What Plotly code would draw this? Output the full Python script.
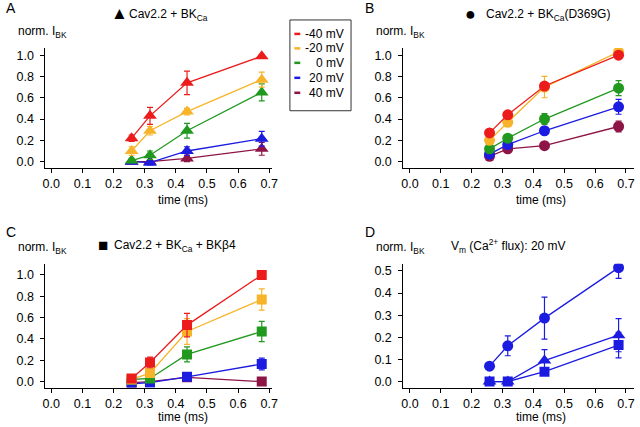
import plotly.graph_objects as go

# ---------------- data ----------------
time_ms = [0.258, 0.317, 0.436, 0.676]
voltages = ["-40 mV", "-20 mV", "0 mV", "20 mV", "40 mV"]
colors = ["#ec1c1c", "#f7b42a", "#21991f", "#1c1ce0", "#8e1446"]

# Panel A: Cav2.2 + BKCa (triangles), rows follow voltages
A_mean = [[0.22, 0.43, 0.74, 0.99],
          [0.10, 0.29, 0.47, 0.77],
          [0.01, 0.06, 0.29, 0.65],
          [0.00, -0.01, 0.10, 0.215],
          [0.00, 0.00, 0.03, 0.12]]
A_err = [[0.03, 0.08, 0.11, 0.01],
         [0.04, 0.04, 0.03, 0.07],
         [0.02, 0.04, 0.07, 0.08],
         [0.01, 0.02, 0.04, 0.07],
         [0.01, 0.01, 0.03, 0.06]]

# Panel B: Cav2.2 + BKCa(D369G) (circles)
B_mean = [[0.27, 0.44, 0.71, 1.00],
          [0.20, 0.37, 0.70, 1.03],
          [0.12, 0.22, 0.40, 0.69],
          [0.07, 0.16, 0.29, 0.515],
          [0.05, 0.12, 0.15, 0.33]]
B_err = [[0.02, 0.02, 0.03, 0.01],
         [0.02, 0.03, 0.10, 0.04],
         [0.02, 0.02, 0.05, 0.07],
         [0.01, 0.02, 0.03, 0.07],
         [0.01, 0.02, 0.02, 0.05]]

# Panel C: Cav2.2 + BKCa + BKb4 (squares)
C_mean = [[0.03, 0.18, 0.53, 1.00],
          [0.02, 0.08, 0.47, 0.77],
          [0.02, 0.03, 0.255, 0.47],
          [-0.02, -0.01, 0.045, 0.165],
          [-0.01, 0.00, 0.04, 0.00]]
C_err = [[0.01, 0.05, 0.11, 0.01],
         [0.01, 0.03, 0.12, 0.10],
         [0.01, 0.02, 0.07, 0.095],
         [0.01, 0.01, 0.015, 0.055],
         [0.01, 0.01, 0.01, 0.01]]

# Panel D: Vm 20 mV, the three constructs
D_names = ["BKCa(D369G)", "BKCa", "BKCa + BKb4"]
D_symbols = ["circle", "triangle-up", "square"]
D_mean = [[0.07, 0.162, 0.287, 0.515],
          [0.00, 0.00, 0.095, 0.21],
          [0.00, 0.00, 0.045, 0.165]]
D_err = [[0.005, 0.045, 0.095, 0.048],
         [0.00, 0.00, 0.05, 0.075],
         [0.00, 0.00, 0.015, 0.058]]

y_ticks_main = [0.0, 0.2, 0.4, 0.6, 0.8, 1.0]
y_ticks_D = [0.0, 0.1, 0.2, 0.3, 0.4, 0.5]
x_ticks = [0.0, 0.1, 0.2, 0.3, 0.4, 0.5, 0.6, 0.7]

# ---------------- figure ----------------
W, H = 640, 427
FONT = "Liberation Sans, Arial, Helvetica, sans-serif"
SYM_SIZE = {"triangle-up": 12, "circle": 11, "square": 10}

def px(x):
    return x / W

def py(y):
    return 1 - y / H

fig = go.Figure()

def add_series(xa, ya, mean, err, color, symbol, name):
    fig.add_trace(go.Scatter(
        x=time_ms, y=mean, mode="lines+markers", name=name,
        xaxis=xa, yaxis=ya, showlegend=False,
        line=dict(color=color, width=1.3),
        marker=dict(symbol=symbol, size=SYM_SIZE[symbol], color=color, line=dict(width=0)),
        error_y=dict(type="data", array=err, color=color, thickness=1.2, width=3),
    ))

# draw from 40 mV up to -40 mV so red is on top
for i in reversed(range(len(voltages))):
    add_series("x", "y", A_mean[i], A_err[i], colors[i], "triangle-up", voltages[i])
    add_series("x2", "y2", B_mean[i], B_err[i], colors[i], "circle", voltages[i])
    add_series("x3", "y3", C_mean[i], C_err[i], colors[i], "square", voltages[i])

blue = colors[3]
for i in range(3):
    add_series("x4", "y4", D_mean[i], D_err[i], blue, D_symbols[i], D_names[i])

axis_common = dict(
    showline=True, linecolor="black", linewidth=1, mirror=False,
    ticks="outside", ticklen=4, tickwidth=1, tickcolor="black",
    showgrid=False, zeroline=False, tickformat=".1f",
    tickfont=dict(family=FONT, size=12.5, color="black"),
)

left_dom = [px(43), px(273)]
right_dom = [px(406), 1.0]
top_dom = [py(168), py(48)]
bot_dom = [py(388.5), py(264.3)]
left_range = [-0.019, 0.7095]
right_range = [-0.0214, 0.726]

fig.update_layout(
    width=W, height=H,
    margin=dict(l=0, r=0, t=0, b=0),
    paper_bgcolor="white", plot_bgcolor="white",
    font=dict(family=FONT, size=12, color="black"),
    xaxis=dict(axis_common, domain=left_dom, range=left_range, tickvals=x_ticks, anchor="y"),
    yaxis=dict(axis_common, domain=top_dom, range=[-0.056, 1.068], tickvals=y_ticks_main, anchor="x", ticklabelstandoff=4),
    xaxis2=dict(axis_common, domain=right_dom, range=right_range, tickvals=x_ticks, anchor="y2"),
    yaxis2=dict(axis_common, domain=top_dom, range=[-0.056, 1.068], tickvals=y_ticks_main, anchor="x2", ticklabelstandoff=4),
    xaxis3=dict(axis_common, domain=left_dom, range=left_range, tickvals=x_ticks, anchor="y3"),
    yaxis3=dict(axis_common, domain=bot_dom, range=[-0.056, 1.106], tickvals=y_ticks_main, anchor="x3", ticklabelstandoff=4),
    xaxis4=dict(axis_common, domain=right_dom, range=right_range, tickvals=x_ticks, anchor="y4"),
    yaxis4=dict(axis_common, domain=bot_dom, range=[-0.027, 0.533], tickvals=y_ticks_D, anchor="x4", ticklabelstandoff=4),
)

annotations = []

def ann(x, y, text, size=12, xanchor="left", yanchor="middle"):
    annotations.append(dict(x=px(x), y=py(y), xref="paper", yref="paper", text=text,
                            showarrow=False, xanchor=xanchor, yanchor=yanchor,
                            font=dict(family=FONT, size=size, color="black")))

# panel letters
ann(1, 8, "A", 14)
ann(365, 8, "B", 14)
ann(1, 233, "C", 14)
ann(365, 233, "D", 14)

# y-axis labels
for (x, y) in [(13, 32), (376, 32), (13, 249), (376, 249)]:
    ann(x, y, "norm. I<sub>BK</sub>", 12)

# x-axis titles
for (x, y) in [(183, 200), (546, 200), (183, 418), (546, 418)]:
    ann(x, y, "time (ms)", 12, xanchor="center")

# panel titles
ann(108, 14, "▲", 17)
ann(126, 15, "Cav2.2 + BK<sub>Ca</sub>", 12)
ann(467, 14, "●", 18)
ann(488, 15, "Cav2.2 + BK<sub>Ca</sub>(D369G)", 12)
ann(94, 246, "■", 17)
ann(111, 247, "Cav2.2 + BK<sub>Ca</sub> + BKβ4", 12)
ann(452, 247, "V<sub>m</sub> (Ca<sup>2+</sup> flux): 20 mV", 12)

# legend box (manual)
shapes = [dict(type="rect", xref="paper", yref="paper",
               x0=px(291), x1=px(353), y0=py(111), y1=py(20),
               line=dict(color="#333333", width=1), fillcolor="rgba(0,0,0,0)")]
leg_y = [34, 48.5, 63, 78, 93]
for i, v in enumerate(voltages):
    shapes.append(dict(type="line", xref="paper", yref="paper",
                       x0=px(295.5), x1=px(301.5), y0=py(leg_y[i]), y1=py(leg_y[i]),
                       line=dict(color=colors[i], width=2.5)))
    ann(348, leg_y[i], v, 12, xanchor="right")

fig.update_layout(annotations=annotations, shapes=shapes)

fig.write_html("out.html", config={"displayModeBar": False},
               post_script="document.body.style.margin='0';document.body.style.overflow='hidden';")
